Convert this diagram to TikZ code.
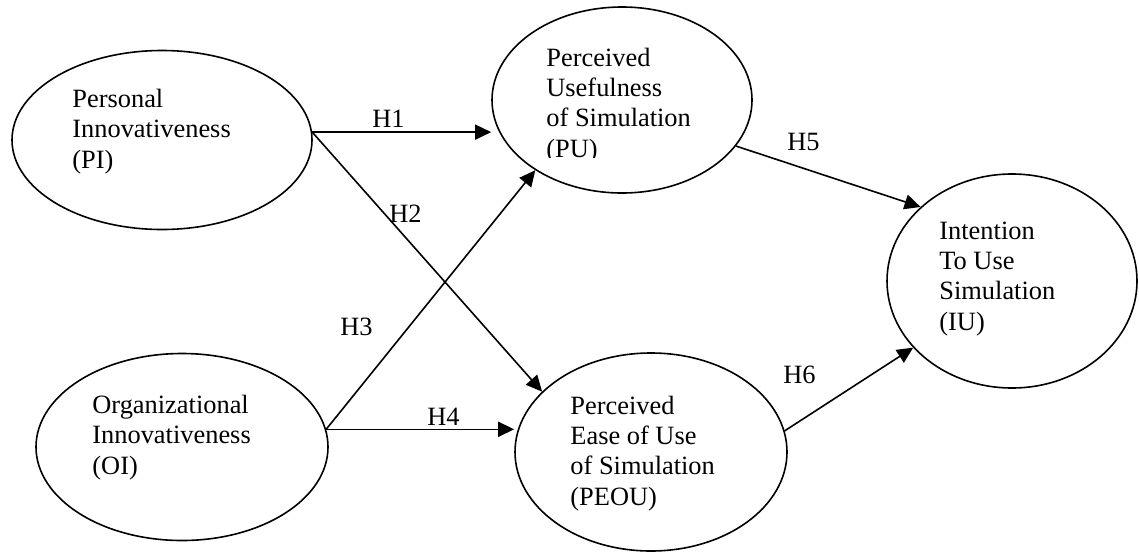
\documentclass[tikz,border=0pt]{standalone}
\usepackage{fontspec}
\setmainfont{Liberation Serif}
\usetikzlibrary{shapes.geometric,arrows.meta}

\begin{document}
\begin{tikzpicture}[x=0.5pt,y=-0.5pt,
  construct/.style={draw,ellipse,line width=0.8pt,inner sep=0pt},
  blocktext/.style={anchor=base west,inner sep=0pt,align=left,
    font=\fontsize{13.2}{15.1}\selectfont},
  hyp/.style={anchor=base west,inner sep=0pt,font=\fontsize{13.2}{15.1}\selectfont},
  path/.style={line width=0.8pt,-{Triangle[length=8pt,width=7.5pt]}}]

\useasboundingbox (0,0) rectangle (1139,552);

% latent constructs
\node[construct,minimum width=150pt,minimum height=89.5pt] (PI) at (162,140) {};
\node[construct,minimum width=146pt,minimum height=93.5pt] (OI) at (182,447) {};
\node[construct,minimum width=130pt,minimum height=93pt] (PU) at (622,100) {};
\node[construct,minimum width=136pt,minimum height=99pt] (PEOU) at (651,452) {};
\node[construct,minimum width=125pt,minimum height=107pt] (IU) at (1012,281) {};

% construct labels (anchored at the baseline of their last line)
\node[blocktext] (PItext) at (72,168) {Personal\\Innovativeness\\(PI)};
\node[blocktext] (OItext) at (92,474) {Organizational\\Innovativeness\\(OI)};
\begin{scope}
  \clip (0,0) rectangle (1139,157);
  \node[blocktext] (PUtext) at (546,157) {Perceived\\Usefulness\\of Simulation\\(PU)};
\end{scope}
\node[blocktext] (PEOUtext) at (570,505) {Perceived\\Ease of Use\\of Simulation\\(PEOU)};
\node[blocktext] (IUtext) at (939,330) {Intention\\To Use\\Simulation\\(IU)};

% hypothesised paths
\draw[path] (PI.3) -- (PI.3 -| PU.west);
\draw[path] (PI.3) -- (PEOU.151);
\draw[path] (OI.7) -- (PU.219.5);
\draw[path] (OI.7) -- (OI.7 -| PEOU.west);
\draw[path] (PU.-22) -- (IU.141.8);
\draw[path] (PEOU.9) -- (IU.214);

% hypothesis labels
\node[hyp] (H1) at (372,127) {H1};
\node[hyp] (H2) at (389,222) {H2};
\node[hyp] (H3) at (340,335) {H3};
\node[hyp] (H4) at (427,425) {H4};
\node[hyp] (H5) at (787,150) {H5};
\node[hyp] (H6) at (783,383) {H6};
\end{tikzpicture}
\end{document}
